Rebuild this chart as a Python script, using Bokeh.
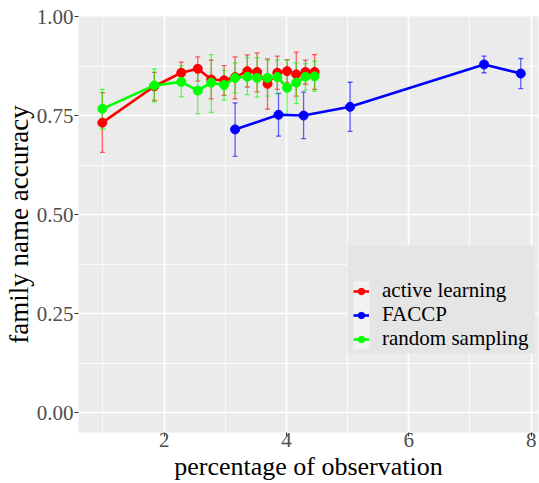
from bokeh.plotting import figure
from bokeh.models import (ColumnDataSource, Whisker, TeeHead, FixedTicker,
                          PrintfTickFormatter, Legend, LegendItem, BoxAnnotation)
from bokeh.embed import file_html
from bokeh.resources import INLINE

# ---- data ----
al_x = [0.99, 1.84, 2.28, 2.55, 2.77, 2.98, 3.16, 3.36, 3.52, 3.69, 3.85, 4.01, 4.16, 4.31, 4.46]
al_y = [0.732, 0.824, 0.858, 0.868, 0.841, 0.839, 0.847, 0.862, 0.860, 0.830, 0.858, 0.862, 0.854, 0.860, 0.860]
al_lo = [0.657, 0.788, 0.831, 0.837, 0.792, 0.801, 0.792, 0.822, 0.810, 0.766, 0.816, 0.833, 0.799, 0.829, 0.816]
al_hi = [0.808, 0.859, 0.885, 0.898, 0.890, 0.876, 0.898, 0.903, 0.908, 0.893, 0.900, 0.891, 0.910, 0.890, 0.904]

fa_x = [3.16, 3.87, 4.28, 5.04, 7.23, 7.83]
fa_y = [0.715, 0.752, 0.750, 0.772, 0.879, 0.856]
fa_lo = [0.647, 0.698, 0.692, 0.710, 0.858, 0.818]
fa_hi = [0.782, 0.806, 0.809, 0.834, 0.900, 0.894]

rs_x = [0.99, 1.84, 2.28, 2.55, 2.77, 2.98, 3.16, 3.36, 3.52, 3.69, 3.85, 4.01, 4.16, 4.31, 4.46]
rs_y = [0.767, 0.826, 0.835, 0.813, 0.833, 0.827, 0.845, 0.848, 0.845, 0.845, 0.847, 0.820, 0.833, 0.848, 0.849]
rs_lo = [0.716, 0.784, 0.797, 0.755, 0.758, 0.789, 0.807, 0.803, 0.797, 0.799, 0.804, 0.753, 0.780, 0.814, 0.811]
rs_hi = [0.816, 0.868, 0.876, 0.870, 0.904, 0.864, 0.883, 0.896, 0.896, 0.890, 0.890, 0.890, 0.883, 0.881, 0.887]

series_names = ["active learning", "FACCP", "random sampling"]
series_colors = ["#FF0000", "#0000FF", "#00FF00"]

x_ticks = [2, 4, 6, 8]
x_minor = [1, 3, 5, 7]
y_ticks = [0.0, 0.25, 0.5, 0.75, 1.0]
y_minor = [0.125, 0.375, 0.625, 0.875]

x_title = "percentage of observation"
y_title = "family name accuracy"

FONT = "Liberation Serif"

p = figure(width=539, height=483, output_backend="svg", toolbar_location=None,
           x_range=(0.6, 8.12), y_range=(-0.05, 1.0),
           min_border_left=77, min_border_right=1, min_border_top=16, min_border_bottom=51)
p.background_fill_color = "#EBEBEB"
p.border_fill_color = "white"
p.outline_line_color = None

xt = FixedTicker(ticks=x_ticks, minor_ticks=x_minor)
yt = FixedTicker(ticks=y_ticks, minor_ticks=y_minor)
p.xaxis.ticker = xt
p.yaxis.ticker = yt
p.xgrid.ticker = xt
p.ygrid.ticker = yt
p.yaxis.formatter = PrintfTickFormatter(format="%.2f")

for ax in (p.xaxis, p.yaxis):
    ax.axis_line_color = None
    ax.major_tick_line_color = "#333333"
    ax.major_tick_line_width = 1
    ax.major_tick_out = 4
    ax.major_tick_in = 0
    ax.minor_tick_out = 0
    ax.minor_tick_in = 0
    ax.major_label_text_font = FONT
    ax.major_label_text_font_size = "21px"
    ax.major_label_text_color = "#4D4D4D"
    ax.axis_label_text_font = FONT
    ax.axis_label_text_font_style = "normal"
    ax.axis_label_text_color = "black"

p.xaxis.axis_label = x_title
p.yaxis.axis_label = y_title
p.xaxis.axis_label_text_font_size = "26px"
p.yaxis.axis_label_text_font_size = "27px"
p.xaxis.major_label_standoff = -4
p.yaxis.major_label_standoff = 1
p.xaxis.axis_label_standoff = 2
p.yaxis.axis_label_standoff = 0

for g in (p.xgrid, p.ygrid):
    g.grid_line_color = "white"
    g.grid_line_width = 1.6
    g.minor_grid_line_color = "white"
    g.minor_grid_line_width = 0.8

# legend background box and key background (screen units, relative to the plot frame)
legend_bg = BoxAnnotation(left=269, right=456, bottom=79, top=187,
                          left_units="screen", right_units="screen",
                          bottom_units="screen", top_units="screen",
                          fill_color="#E5E5E5", fill_alpha=1.0, line_alpha=0)
key_bg = BoxAnnotation(left=275, right=291, bottom=83, top=151,
                       left_units="screen", right_units="screen",
                       bottom_units="screen", top_units="screen",
                       fill_color="#F2F2F2", fill_alpha=1.0, line_alpha=0)
p.add_layout(legend_bg)
p.add_layout(key_bg)

data = [(al_x, al_y, al_lo, al_hi), (fa_x, fa_y, fa_lo, fa_hi), (rs_x, rs_y, rs_lo, rs_hi)]
legend_y = [129, 105, 81]
for (xs, ys, lo, hi), name, col, ly in zip(data, series_names, series_colors, legend_y):
    src = ColumnDataSource(dict(x=xs, y=ys, lo=lo, hi=hi))
    lr = p.line("x", "y", source=src, line_color=col, line_width=2.6)
    sr = p.scatter("x", "y", source=src, size=9, fill_color=col, line_color=col)
    w = Whisker(base="x", lower="lo", upper="hi", source=src,
                line_color=col, line_alpha=0.6, line_width=1.3,
                lower_head=TeeHead(size=5, line_color=col, line_alpha=0.6, line_width=1.3),
                upper_head=TeeHead(size=5, line_color=col, line_alpha=0.6, line_width=1.3))
    p.add_layout(w)
    leg = Legend(items=[LegendItem(label=name, renderers=[lr, sr])],
                 location=(275, ly), padding=0, margin=0, spacing=0,
                 glyph_width=16, glyph_height=16, label_height=18, label_standoff=13,
                 label_text_font=FONT, label_text_font_size="21px", label_text_color="black",
                 background_fill_alpha=0, border_line_alpha=0)
    p.add_layout(leg)

open("out.html", "w").write(file_html(p, INLINE))
